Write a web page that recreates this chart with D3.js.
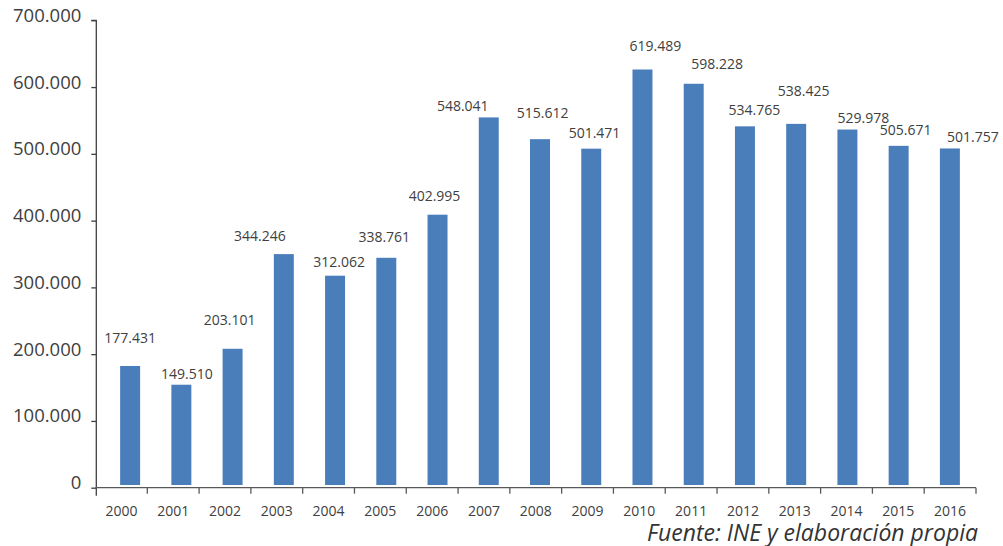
<!DOCTYPE html>
<html>
<head>
<meta charset="utf-8">
<script src="https://cdn.jsdelivr.net/npm/d3@7/dist/d3.min.js"></script>
<style>
  html, body { margin: 0; padding: 0; background: #fff; }
  svg { display: block; font-family: "Open Sans", sans-serif; }
</style>
</head>
<body>
<svg id="chart" width="1003" height="546"></svg>
<script>
// ---- data ----
const years = ["2000","2001","2002","2003","2004","2005","2006","2007","2008","2009","2010","2011","2012","2013","2014","2015","2016"];
const values = [177431,149510,203101,344246,312062,338761,402995,548041,515612,501471,619489,598228,534765,538425,529978,505671,501757];
const yTicks = [0,100000,200000,300000,400000,500000,600000,700000];
const sourceText = "Fuente: INE y elaboración propia";

// ---- label layout (pixel nudges relative to bar top centre, as placed in the original) ----
const labelDx = [0,5.5,-3,-24,4,-2,-3,-26,2.7,3.3,13,23.5,9.5,7.5,16,7,23];
const labelDy = [-23,-6,-24,-12.7,-8.7,-15.7,-13.3,-6.7,-21.3,-10.7,-18.3,-14.7,-11.7,-28.3,-6.3,-10.7,-6.7];

const fmt = v => d3.format(",")(v).replace(/,/g, ".");

const svg = d3.select("#chart");

// axis scales
const xAxisScale = d3.scaleBand().domain(years).range([95.5, 976]).padding(0);
const y = d3.scaleLinear().domain([0, 700000]).range([487.7, 20.3]);
// bar placement scales (the original's bars sit slightly off the axis grid)
const xBar = d3.scaleBand().domain(years).range([104.5, 975.5]).paddingInner(0.61).paddingOuter(0.305);
const yBar = d3.scaleLinear().domain([0, 700000]).range([485, 15.5]);

const textColor = "#404040";

// bars
svg.append("g").selectAll("rect")
  .data(values)
  .join("rect")
  .attr("x", (d, i) => xBar(years[i]))
  .attr("width", xBar.bandwidth())
  .attr("y", d => yBar(d))
  .attr("height", d => yBar(0) - yBar(d))
  .attr("fill", "#4a7ebb");

// value labels
svg.append("g").selectAll("text")
  .data(values)
  .join("text")
  .attr("x", (d, i) => xBar(years[i]) + xBar.bandwidth() / 2 + labelDx[i])
  .attr("y", (d, i) => yBar(d) + labelDy[i])
  .attr("text-anchor", "middle")
  .attr("font-size", "14px")
  .attr("fill", textColor)
  .text(d => fmt(d));

// y axis
const yAxis = svg.append("g")
  .attr("transform", "translate(96.3,0)")
  .call(d3.axisLeft(y).tickValues(yTicks).tickFormat(d => d === 0 ? "0" : fmt(d)).tickSize(5).tickPadding(10));
yAxis.select(".domain").attr("stroke", "#404040").attr("stroke-width", 1.3)
  .attr("d", `M-5,${y(700000)}H0V${y(0) + 8}`);
yAxis.selectAll(".tick line").attr("stroke", "#404040").attr("stroke-width", 1.3);
yAxis.selectAll(".tick text")
  .attr("font-size", "18.5px")
  .attr("font-family", "'Open Sans', sans-serif")
  .attr("fill", textColor)
  .attr("dy", "0.05em");

// x axis
const xAxis = svg.append("g")
  .attr("transform", `translate(0,${y(0)})`)
  .call(d3.axisBottom(xAxisScale).tickSize(0).tickPadding(18.5));
xAxis.select(".domain").attr("stroke", "#595959").attr("stroke-width", 1.3)
  .attr("d", `M${xAxisScale.range()[0]},0H${xAxisScale.range()[1]}`);
xAxis.selectAll(".tick text")
  .attr("font-size", "14px")
  .attr("font-family", "'Open Sans', sans-serif")
  .attr("fill", textColor);
// category boundary ticks
const boundaries = years.map(yr => xAxisScale(yr) + xAxisScale.bandwidth()).slice(0, -1)
  .concat([xAxisScale.range()[1]]);
xAxis.append("g").selectAll("line")
  .data(boundaries)
  .join("line")
  .attr("x1", d => d).attr("x2", d => d)
  .attr("y1", 0).attr("y2", 6)
  .attr("stroke", "#595959").attr("stroke-width", 1.3);

// source
svg.append("text")
  .attr("x", 978)
  .attr("y", 540.5)
  .attr("text-anchor", "end")
  .attr("font-size", "23px")
  .attr("font-style", "italic")
  .attr("fill", "#333")
  .text(sourceText);
</script>
</body>
</html>
